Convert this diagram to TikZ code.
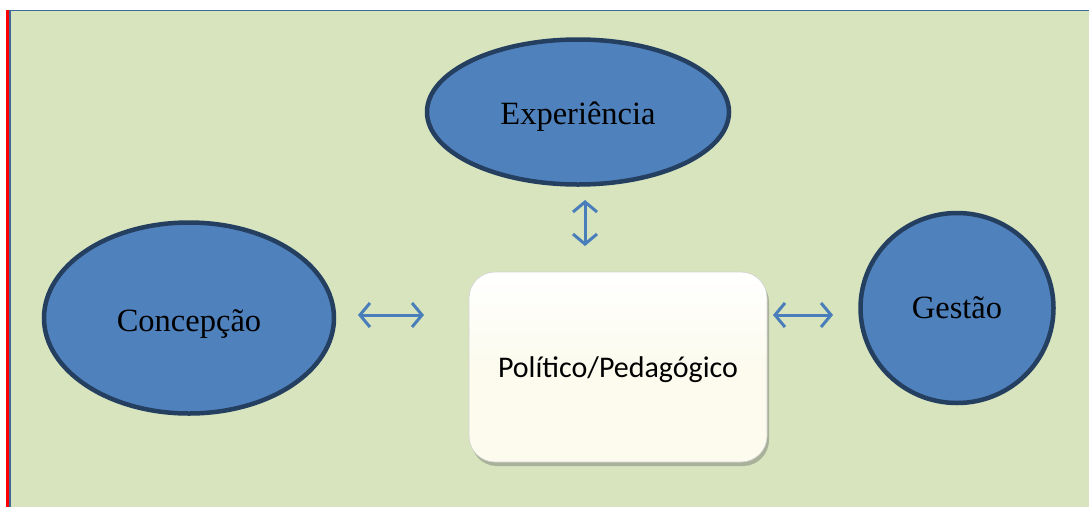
\documentclass[tikz,border=0pt]{standalone}
\usepackage{fontspec}
\setmainfont{Liberation Serif}
\newfontfamily\boxfont{Carlito}
\usetikzlibrary{shapes.geometric, arrows.meta, shadows}
\definecolor{bggreen}{HTML}{D7E4BD}
\definecolor{blobblue}{HTML}{4F81BD}
\definecolor{blobedge}{HTML}{243F60}
\definecolor{linkblue}{HTML}{4A7EBB}
\definecolor{ivory}{HTML}{FCFBEE}
\tikzset{
    blob/.style={ellipse, fill=blobblue, draw=blobedge, line width=4.5pt,
        inner sep=0pt, font=\fontsize{32.5}{38}\selectfont},
    centrebox/.style={rectangle, rounded corners=26pt, inner sep=0pt,
        top color=white, bottom color=ivory, middle color=ivory,
        draw=gray!35, line width=.6pt,
        drop shadow={shadow xshift=2pt, shadow yshift=-4pt, opacity=.45,
            fill=black!55},
        font=\boxfont\fontsize{30}{36}\selectfont},
    link/.style={draw=linkblue, line width=3pt,
        {Straight Barb[length=10pt, width=24pt, line width=3pt]}-%
        {Straight Barb[length=10pt, width=24pt, line width=3pt]}},
}
\begin{document}
\begin{tikzpicture}[x=1pt, y=-1pt]
    \useasboundingbox (0, 0) rectangle (1089, 507);
    \fill[bggreen] (10, 10) rectangle (1089, 507); % Background panel
    \draw[blobblue!80!black, line width=1.5pt] (10, 507) -- (10, 10.5) -- (1089, 10.5);
    \fill[red] (6, 10) rectangle (9.3, 507); % Red margin line

    \node[blob, minimum width=302pt, minimum height=145pt,
        text height=26pt, text depth=2pt] (exp) at (578, 112) {Experiência};
    \node[blob, minimum width=290pt, minimum height=191pt,
        text height=26pt, text depth=0pt] (conc) at (189, 318) {Concepção};
    \node[blob, minimum width=193pt, minimum height=190pt] (gest) at (957, 308)
        {Gestão};
    \node[centrebox, minimum width=298pt, minimum height=190pt,
        text height=24pt, text depth=4pt] (pp) at (618, 367)
        {Político/Pedagógico};

    \coordinate (vtop) at (585, 200); % Arrow ends sit in the gaps
    \coordinate (vbot) at (585, 246);
    \coordinate (lleft) at (358, 315);
    \coordinate (lright) at (424, 315);
    \coordinate (rleft) at (773, 315);
    \coordinate (rright) at (833, 315);

    \draw[link] (vtop) -- (vbot);
    \draw[link] (lleft) -- (lright);
    \draw[link] (rleft) -- (rright);
\end{tikzpicture}
\end{document}
